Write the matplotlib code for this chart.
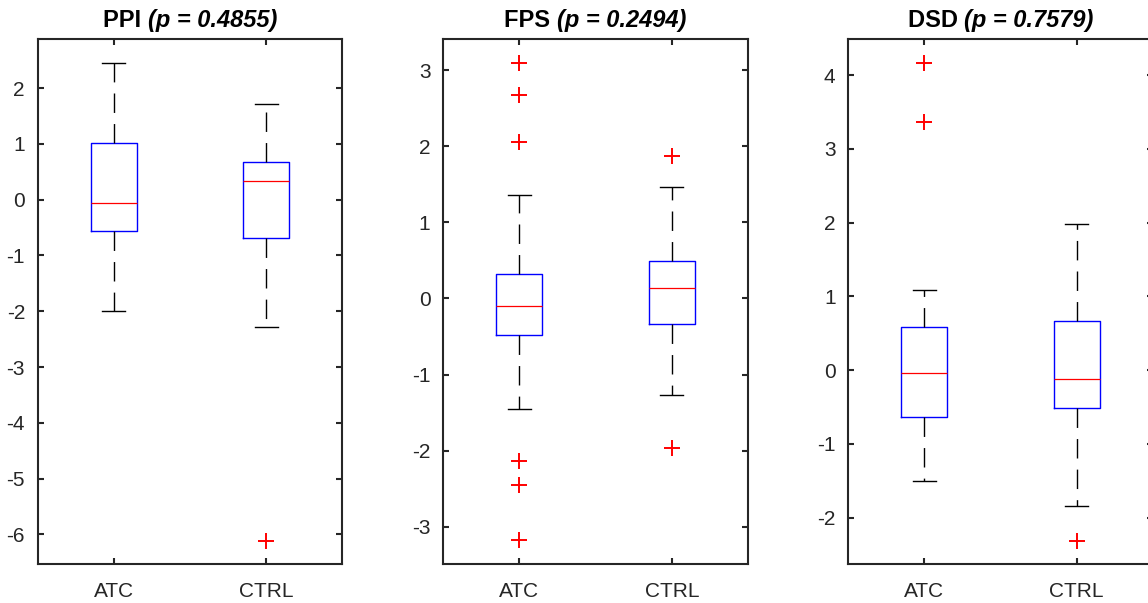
import matplotlib
matplotlib.use('Agg')
import matplotlib.pyplot as plt

plt.rcParams['font.family'] = ['Liberation Sans', 'DejaVu Sans']
plt.rcParams['axes.unicode_minus'] = False

groups = ['ATC', 'CTRL']
titles = ['PPI', 'FPS', 'DSD']
p_values = ['0.4855', '0.2494', '0.7579']

# five-number summaries: [whislo, q1, med, q3, whishi]
ppi_atc = [-1.99, -0.56, -0.06, 1.02, 2.45]
ppi_ctrl = [-2.28, -0.68, 0.34, 0.68, 1.72]
fps_atc = [-1.45, -0.48, -0.10, 0.32, 1.36]
fps_ctrl = [-1.27, -0.33, 0.14, 0.49, 1.46]
dsd_atc = [-1.51, -0.63, -0.04, 0.59, 1.08]
dsd_ctrl = [-1.85, -0.52, -0.12, 0.67, 1.98]

# outliers
ppi_atc_out = []
ppi_ctrl_out = [-6.11]
fps_atc_out = [3.09, 2.68, 2.06, -2.14, -2.45, -3.18]
fps_ctrl_out = [1.87, -1.97]
dsd_atc_out = [4.16, 3.36]
dsd_ctrl_out = [-2.32]

panels = [
    ([ppi_atc, ppi_ctrl], [ppi_atc_out, ppi_ctrl_out], (-6.53, 2.88), range(-6, 3)),
    ([fps_atc, fps_ctrl], [fps_atc_out, fps_ctrl_out], (-3.49, 3.41), range(-3, 4)),
    ([dsd_atc, dsd_ctrl], [dsd_atc_out, dsd_ctrl_out], (-2.63, 4.49), range(-2, 5)),
]

W, H = 1148, 603
fig = plt.figure(figsize=(W / 100, H / 100), dpi=100)
lefts = [37.5, 443, 848]
dark = '#262626'

axes = []
for i, (summ, outs, ylim, yt) in enumerate(panels):
    ax = fig.add_axes([lefts[i] / W, (H - 564) / H, 305 / W, 525 / H])
    stats = []
    for s, o, g in zip(summ, outs, groups):
        stats.append(dict(whislo=s[0], q1=s[1], med=s[2], q3=s[3], whishi=s[4],
                          fliers=o, label=g))
    ax.bxp(stats, positions=[1, 2], widths=0.3, capwidths=0.15,
           boxprops=dict(color='#0000ff', linewidth=1.0),
           medianprops=dict(color='#ff0000', linewidth=0.9),
           whiskerprops=dict(color='black', linewidth=1.0, linestyle=(0, (14, 8))),
           capprops=dict(color='black', linewidth=1.0),
           flierprops=dict(marker='+', markeredgecolor='#ff0000', markersize=12,
                           markeredgewidth=1.4, linestyle='none'))
    ax.set_xlim(0.5, 2.5)
    ax.set_ylim(*ylim)
    ax.set_yticks(list(yt))
    ax.set_xticks([1, 2])
    ax.set_xticklabels(groups)
    for sp in ax.spines.values():
        sp.set_linewidth(1.5)
        sp.set_color(dark)
    ax.tick_params(direction='in', length=4.5, width=1.5, color=dark,
                   labelcolor=dark, labelsize=15, top=True, right=True)
    ax.tick_params(axis='y', pad=9)
    ax.tick_params(axis='x', pad=13)
    axes.append(ax)

# titles: bold name + bold italic p value, centred together
fig.canvas.draw()
r = fig.canvas.get_renderer()
for ax, name, p in zip(axes, titles, p_values):
    t1 = ax.text(0.5, 1, name + ' ', transform=ax.transAxes, ha='left',
                 va='baseline', fontsize=17, fontweight='bold', color='black')
    t2 = ax.text(0.5, 1, '(p = ' + p + ')', transform=ax.transAxes, ha='left',
                 va='baseline', fontsize=17, fontweight='bold', fontstyle='italic',
                 color='black')
    w1 = t1.get_window_extent(r).width
    w2 = t2.get_window_extent(r).width
    axw = ax.get_window_extent(r).width
    x0 = 0.5 - (w1 + w2) / 2 / axw
    off = 12 / ax.get_window_extent(r).height
    t1.set_position((x0, 1 + off))
    t2.set_position((x0 + w1 / axw, 1 + off))

fig.savefig('out.png', dpi=100)
